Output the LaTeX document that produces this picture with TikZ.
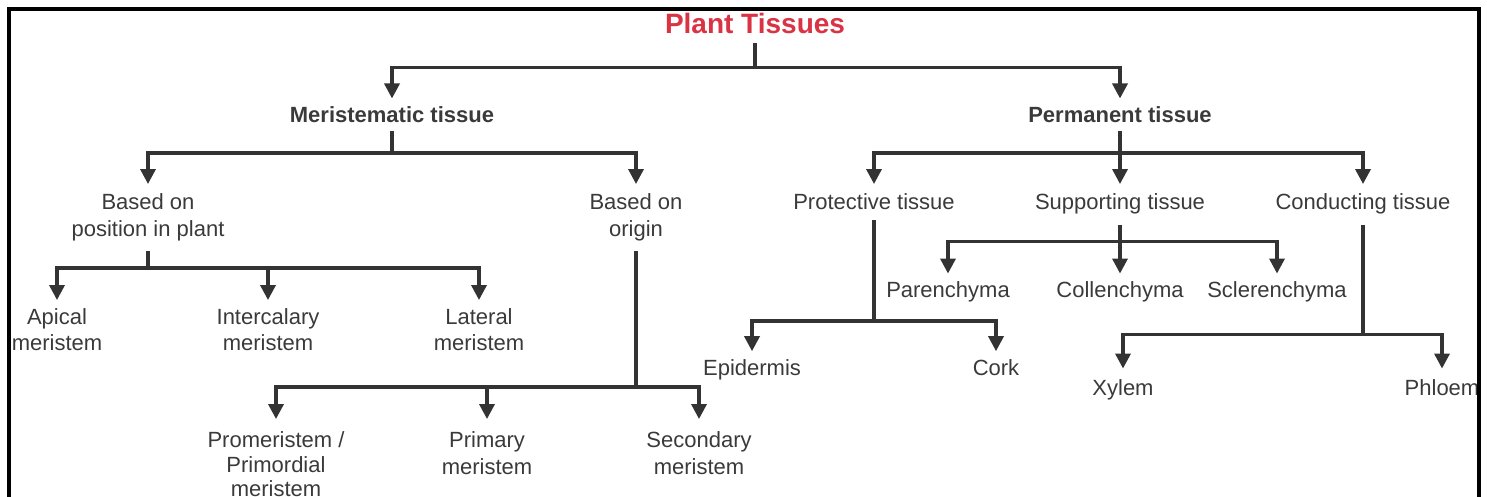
\documentclass[tikz,border=0pt]{standalone}
\usepackage{fontspec}
\setmainfont{Liberation Sans}
\usepackage{xcolor}
\usetikzlibrary{arrows.meta, positioning}
\definecolor{ink}{HTML}{333333}
\definecolor{txt}{HTML}{3A3A3A}
\definecolor{titlered}{HTML}{D93344}
\begin{document}
\begin{tikzpicture}[
    x=1pt, y=1pt,
    >={Triangle[width=15pt,length=15pt]},
    leaf/.style ={align=center, inner xsep=2pt, inner ysep=8pt, text=txt,
                  font=\fontsize{22pt}{26.5pt}\selectfont},
    head/.style ={leaf, font=\fontsize{22pt}{26.5pt}\selectfont\bfseries},
    title/.style={anchor=base, inner ysep=10pt, text=titlered,
                  font=\fontsize{28pt}{32pt}\selectfont\bfseries},
    line/.style ={draw=ink, line width=3.4pt},
    arr/.style  ={line, ->},
    frame/.style={draw=black, line width=4pt, line join=miter},
]
\useasboundingbox (0,0) rectangle (1487,-496);
% root
\node[title] (root) at (755,-33) {Plant Tissues};
\coordinate[below=24pt of root] (rootbar);
\node[head, below=31pt of rootbar, xshift=-363pt] (meri) {Meristematic tissue};
\node[head, below=31pt of rootbar, xshift=365pt] (perm) {Permanent tissue};
\draw[line] (root.south) -- (rootbar);
\draw[arr] (rootbar) -| (meri.north);
\draw[arr] (rootbar) -| (perm.north);
% meristematic branch
\coordinate[below=22pt of meri] (meribar);
\node[leaf, below=31pt of meribar, xshift=-244pt, outer ysep=2pt] (posn)
     {Based on\\position in plant};
\node[leaf, below=31pt of meribar, xshift=244pt, outer ysep=2pt] (orig)
     {Based on\\origin};
\draw[line] (meri.south) -- (meribar);
\draw[arr] (meribar) -| (posn.north);
\draw[arr] (meribar) -| (orig.north);
% by position
\coordinate[below=17pt of posn] (posnbar);
\node[leaf, below=32pt of posnbar, xshift=-91pt] (apical) {Apical\\meristem};
\node[leaf, below=32pt of posnbar, xshift=120pt] (inter) {Intercalary\\meristem};
\node[leaf, below=32pt of posnbar, xshift=331pt] (lateral) {Lateral\\meristem};
\draw[line] (posn.south) -- (posnbar);
\draw[arr] (posnbar) -| (apical.north);
\draw[arr] (posnbar) -| (inter.north);
\draw[arr] (posnbar) -| (lateral.north);
% by origin
\coordinate[below=136pt of orig] (origbar);
\node[leaf, below=32pt of origbar, xshift=-360pt, outer ysep=5pt,
      font=\fontsize{22pt}{24.5pt}\selectfont] (promer)
     {Promeristem /\\Primordial\\meristem};
\node[leaf, below=32pt of origbar, xshift=-149pt, outer ysep=5pt] (primer)
     {Primary\\meristem};
\node[leaf, below=32pt of origbar, xshift=63pt, outer ysep=5pt] (secmer)
     {Secondary\\meristem};
\draw[line] (orig.south) -- (origbar);
\draw[arr] (origbar) -| (promer.north);
\draw[arr] (origbar) -| (primer.north);
\draw[arr] (origbar) -| (secmer.north);
% permanent branch
\coordinate[below=22pt of perm] (permbar);
\node[leaf, below=31pt of permbar, xshift=-246pt, outer ysep=2pt] (prot) {Protective tissue};
\node[leaf, below=31pt of permbar, outer ysep=2pt] (supp) {Supporting tissue};
\node[leaf, below=31pt of permbar, xshift=243pt, outer ysep=2pt] (cond) {Conducting tissue};
\draw[line] (perm.south) -- (permbar);
\draw[arr] (permbar) -| (prot.north);
\draw[arr] (permbar) -- (supp.north);
\draw[arr] (permbar) -| (cond.north);
% supporting
\coordinate[below=17pt of supp] (suppbar);
\node[leaf, below=32pt of suppbar, xshift=-172pt] (paren) {Parenchyma};
\node[leaf, below=32pt of suppbar] (collen) {Collenchyma};
\node[leaf, below=32pt of suppbar, xshift=157pt] (scler) {Sclerenchyma};
\draw[line] (supp.south) -- (suppbar);
\draw[arr] (suppbar) -| (paren.north);
\draw[arr] (suppbar) -- (collen.north);
\draw[arr] (suppbar) -| (scler.north);
% protective
\coordinate[below=101pt of prot] (protbar);
\node[leaf, below=30pt of protbar, xshift=-122pt] (epid) {Epidermis};
\node[leaf, below=30pt of protbar, xshift=122pt] (cork) {Cork};
\draw[line] (prot.south) -- (protbar);
\draw[arr] (protbar) -| (epid.north);
\draw[arr] (protbar) -| (cork.north);
% conducting
\coordinate[below=110pt of cond] (condbar);
\node[leaf, below=34pt of condbar, xshift=-240pt, outer ysep=3pt] (xylem) {Xylem};
\node[leaf, below=34pt of condbar, xshift=79pt, outer ysep=3pt] (phloem) {Phloem};
\draw[line] (cond.south) -- (condbar);
\draw[arr] (condbar) -| (xylem.north);
\draw[arr] (condbar) -| (phloem.north);
% open frame
\draw[frame] (9,-505) |- (1479,-9) -- (1479,-505);
\end{tikzpicture}
\end{document}
